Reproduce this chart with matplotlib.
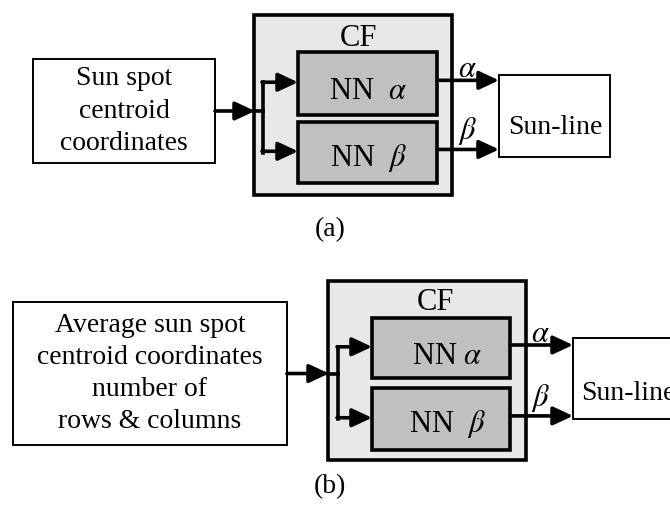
import matplotlib.pyplot as plt
from matplotlib.patches import Rectangle, FancyArrowPatch

# labels of the two diagrams
panel_tags = ["(a)", "(b)"]
input_texts = ["Sun spot\ncentroid\ncoordinates",
               "Average sun spot\ncentroid coordinates\nnumber of\nrows & columns"]
block_name = "CF"
nn_texts = [["NN  $\\alpha$", "NN  $\\beta$"], ["NN $\\alpha$", "NN  $\\beta$"]]
out_texts = ["$\\alpha$", "$\\beta$"]
sink_text = "Sun-line"

plt.rcParams['font.family'] = ['Liberation Serif', 'DejaVu Serif']
plt.rcParams['mathtext.fontset'] = 'stix'

# layout in pixel units (x from left, y from top)
layouts = [
    dict(inp=(33, 59, 215, 163), cf=(254, 15, 452, 195), branch=263,
         nn=[(298, 52, 437, 115), (298, 122, 437, 183)],
         sink=(499, 75, 610, 157), tag=(330, 230), cf_text=(358, 38),
         sink_text=(555, 128), nn_text_x=368),
    dict(inp=(13, 302, 287, 445), cf=(328, 281, 526, 460), branch=338,
         nn=[(372, 318, 510, 378), (372, 388, 510, 450)],
         sink=(573, 338, 700, 419), tag=(330, 487), cf_text=(435, 303),
         sink_text=(581, 393), nn_text_x=447),
]

fig = plt.figure(figsize=(6.70, 5.22), dpi=100)
ax = fig.add_axes([0, 0, 1, 1])
ax.set_xlim(0, 670)
ax.set_ylim(522, 0)
ax.axis('off')

FS = 20
LW_THICK = 2.6
LW_THIN = 1.4
label_dy = [-11, -18]
nn_dy = [8, 5]


def box(x0, y0, x1, y1, fc, lw, z=1):
    ax.add_patch(Rectangle((x0, y0), x1 - x0, y1 - y0, facecolor=fc,
                           edgecolor='black', linewidth=lw, zorder=z))


def arrow(x0, y0, x1, y1):
    ax.add_patch(FancyArrowPatch((x0, y0), (x1, y1),
                                 arrowstyle='-|>,head_length=0.6,head_width=0.28',
                                 mutation_scale=20, linewidth=LW_THICK,
                                 color='black', shrinkA=0, shrinkB=0, zorder=5))


for i, lay in enumerate(layouts):
    # input box
    x0, y0, x1, y1 = lay['inp']
    box(x0, y0, x1, y1, 'white', LW_THIN)
    ax.text((x0 + x1) / 2, (y0 + y1) / 2, input_texts[i], ha='center', va='center',
            fontsize=FS, linespacing=1.38)

    # CF container
    cx0, cy0, cx1, cy1 = lay['cf']
    box(cx0, cy0, cx1, cy1, '#e8e8e8', LW_THICK)
    ax.text(lay['cf_text'][0], lay['cf_text'][1], block_name, ha='center', va='center',
            fontsize=FS + 2)

    # NN boxes
    mids = []
    for j, (nx0, ny0, nx1, ny1) in enumerate(lay['nn']):
        box(nx0, ny0, nx1, ny1, '#c0c0c0', LW_THICK, z=2)
        ax.text(lay['nn_text_x'], (ny0 + ny1) / 2 + nn_dy[j], nn_texts[i][j],
                ha='center', va='center', fontsize=FS + 2, zorder=3)
        mids.append((ny0 + ny1) / 2)

    # input arrow and branch
    ym = (y0 + y1) / 2
    bx = lay['branch']
    arrow(x1, ym, cx0 + 1, ym)
    ax.plot([cx0, bx], [ym, ym], color='black', lw=LW_THICK, zorder=4)
    ax.plot([bx, bx], [mids[0], mids[1]], color='black', lw=LW_THICK, zorder=4,
            solid_capstyle='butt')
    for j, (nx0, ny0, nx1, ny1) in enumerate(lay['nn']):
        ya = ny0 + (ny1 - ny0) * 0.48
        ax.plot([bx, bx], [mids[j], ya], color='black', lw=LW_THICK, zorder=4)
        arrow(bx - 1, ya, nx0, ya)

    # outputs to sink
    sx0, sy0, sx1, sy1 = lay['sink']
    box(sx0, sy0, sx1, sy1, 'white', LW_THIN)
    ax.text(lay['sink_text'][0], lay['sink_text'][1], sink_text,
            ha='center' if i == 0 else 'left', va='center', fontsize=FS)
    for j, (nx0, ny0, nx1, ny1) in enumerate(lay['nn']):
        yo = ny0 + (ny1 - ny0) * 0.45
        arrow(nx1, yo, sx0, yo)
        ax.text((nx1 + sx0) / 2 - 1, yo + label_dy[j], out_texts[j], ha='center',
                va='center', fontsize=FS + 2, zorder=6)

    ax.text(lay['tag'][0], lay['tag'][1], panel_tags[i], ha='center', va='center',
            fontsize=FS)

fig.savefig('out.png', dpi=100)
